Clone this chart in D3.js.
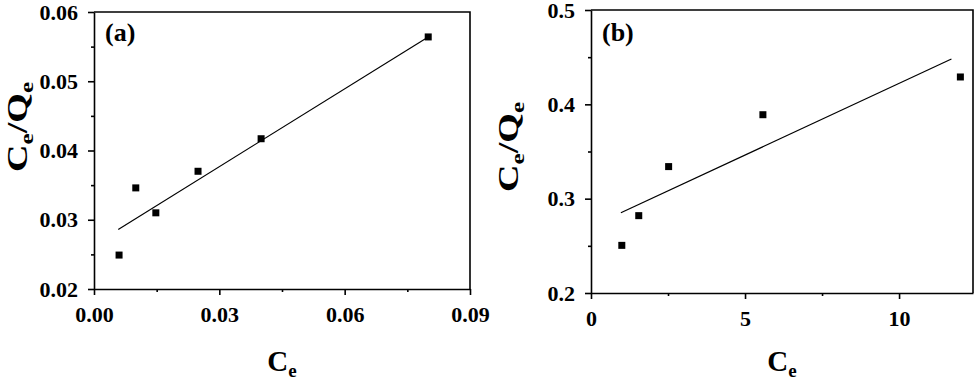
<!DOCTYPE html>
<html lang="en">
<head>
<meta charset="UTF-8">
<title>Ce/Qe vs Ce</title>
<style>
  body { margin: 0; background: #fff; }
  svg text { font-family: 'Liberation Serif', 'Times New Roman', serif; font-weight: bold; fill: #000; }
  .axis path, .axis line { stroke: #000; stroke-width: 1.6px; }
  .frame { stroke: #000; stroke-width: 1.6px; fill: none; }
  .fit { stroke: #000; stroke-width: 1.2px; fill: none; }
</style>
</head>
<body>
<svg width="980" height="381"></svg>
<script src="https://d3js.org/d3.v7.min.js"></script>
<script>
// panel (a)
const ceA = [0.006, 0.010, 0.0148, 0.0249, 0.040, 0.080];
const qA = [0.0249, 0.0346, 0.0310, 0.0370, 0.0417, 0.0564];
const fitAx = [0.0058, 0.080];
const fitAy = [0.0286, 0.0564];
const xTicksA = [0, 0.03, 0.06, 0.09];
const yTicksA = [0.02, 0.03, 0.04, 0.05, 0.06];

// panel (b)
const ceB = [1.0, 1.55, 2.52, 5.58, 11.99];
const qB = [0.2505, 0.282, 0.334, 0.389, 0.429];
const fitBx = [0.97, 11.70];
const fitBy = [0.285, 0.448];
const xTicksB = [0, 5, 10];
const yTicksB = [0.2, 0.3, 0.4, 0.5];

const svg = d3.select("svg");

function panel(o) {
    const x = d3.scaleLinear().domain(o.xDomain).range([o.left, o.right]);
    const y = d3.scaleLinear().domain(o.yDomain).range([o.bottom, o.top]);
    const g = svg.append("g");

    // minor ticks first (no labels)
    g.append("g").attr("class", "axis")
        .attr("transform", `translate(0,${o.bottom})`)
        .call(d3.axisBottom(x).tickValues(o.xMinor).tickSize(3).tickFormat(""))
        .call(a => a.select(".domain").remove());
    g.append("g").attr("class", "axis")
        .attr("transform", `translate(${o.left},0)`)
        .call(d3.axisLeft(y).tickValues(o.yMinor).tickSize(3).tickFormat(""))
        .call(a => a.select(".domain").remove());

    const xa = g.append("g").attr("class", "axis")
        .attr("transform", `translate(0,${o.bottom})`)
        .call(d3.axisBottom(x).tickValues(o.xTicks).tickSize(6).tickSizeOuter(0)
            .tickPadding(11).tickFormat(d3.format(o.xFmt)));
    xa.selectAll("text").style("font-size", "22px");

    const ya = g.append("g").attr("class", "axis")
        .attr("transform", `translate(${o.left},0)`)
        .call(d3.axisLeft(y).tickValues(o.yTicks).tickSize(6).tickSizeOuter(0)
            .tickPadding(10).tickFormat(d3.format(o.yFmt)));
    ya.selectAll("text").style("font-size", "22px");

    // top and right frame
    g.append("path").attr("class", "frame")
        .attr("d", `M${o.left},${o.top}H${o.right}V${o.bottom}`);

    // fitted line
    g.append("path").attr("class", "fit")
        .attr("d", d3.line().x(d => x(d[0])).y(d => y(d[1]))(d3.zip(o.fx, o.fy)));

    // points
    g.selectAll("rect.pt").data(d3.zip(o.xs, o.ys)).enter().append("rect")
        .attr("class", "pt")
        .attr("x", d => x(d[0]) - 3.5).attr("y", d => y(d[1]) - 3.5)
        .attr("width", 7).attr("height", 7).attr("fill", "#000");

    // panel tag
    g.append("text").attr("x", o.left + 11).attr("y", 41)
        .style("font-size", "26px").text(o.tag);

    // x label
    const xl = g.append("text")
        .attr("x", (o.left + o.right) / 2).attr("y", 371)
        .attr("text-anchor", "middle").style("font-size", "29px");
    xl.append("tspan").text("C");
    xl.append("tspan").attr("dy", 6).style("font-size", "19px").text("e");

    // y label
    const yl = g.append("text")
        .attr("transform", `translate(${o.yLabelX},${o.yLabelY}) rotate(-90)`)
        .attr("text-anchor", "middle").style("font-size", "29px")
        .attr("textLength", 90).attr("lengthAdjust", "spacingAndGlyphs");
    yl.append("tspan").text("C");
    yl.append("tspan").attr("dy", 6).style("font-size", "19px").text("e");
    yl.append("tspan").attr("dy", -6).text("/Q");
    yl.append("tspan").attr("dy", 6).style("font-size", "19px").text("e");
}

panel({
    left: 94, right: 470, top: 12, bottom: 289,
    xDomain: [0, 0.09], yDomain: [0.02, 0.06],
    xTicks: xTicksA, yTicks: yTicksA,
    xMinor: [0.015, 0.045, 0.075], yMinor: [0.025, 0.035, 0.045, 0.055],
    xFmt: ".2f", yFmt: ".2f",
    xs: ceA, ys: qA, fx: fitAx, fy: fitAy,
    tag: "(a)", yLabelX: 27, yLabelY: 127
});

panel({
    left: 591, right: 973, top: 10, bottom: 293,
    xDomain: [0, 12.4], yDomain: [0.2, 0.5],
    xTicks: xTicksB, yTicks: yTicksB,
    xMinor: [2.5, 7.5], yMinor: [0.25, 0.35, 0.45],
    xFmt: "d", yFmt: ".1f",
    xs: ceB, ys: qB, fx: fitBx, fy: fitBy,
    tag: "(b)", yLabelX: 518, yLabelY: 147
});
</script>
</body>
</html>
